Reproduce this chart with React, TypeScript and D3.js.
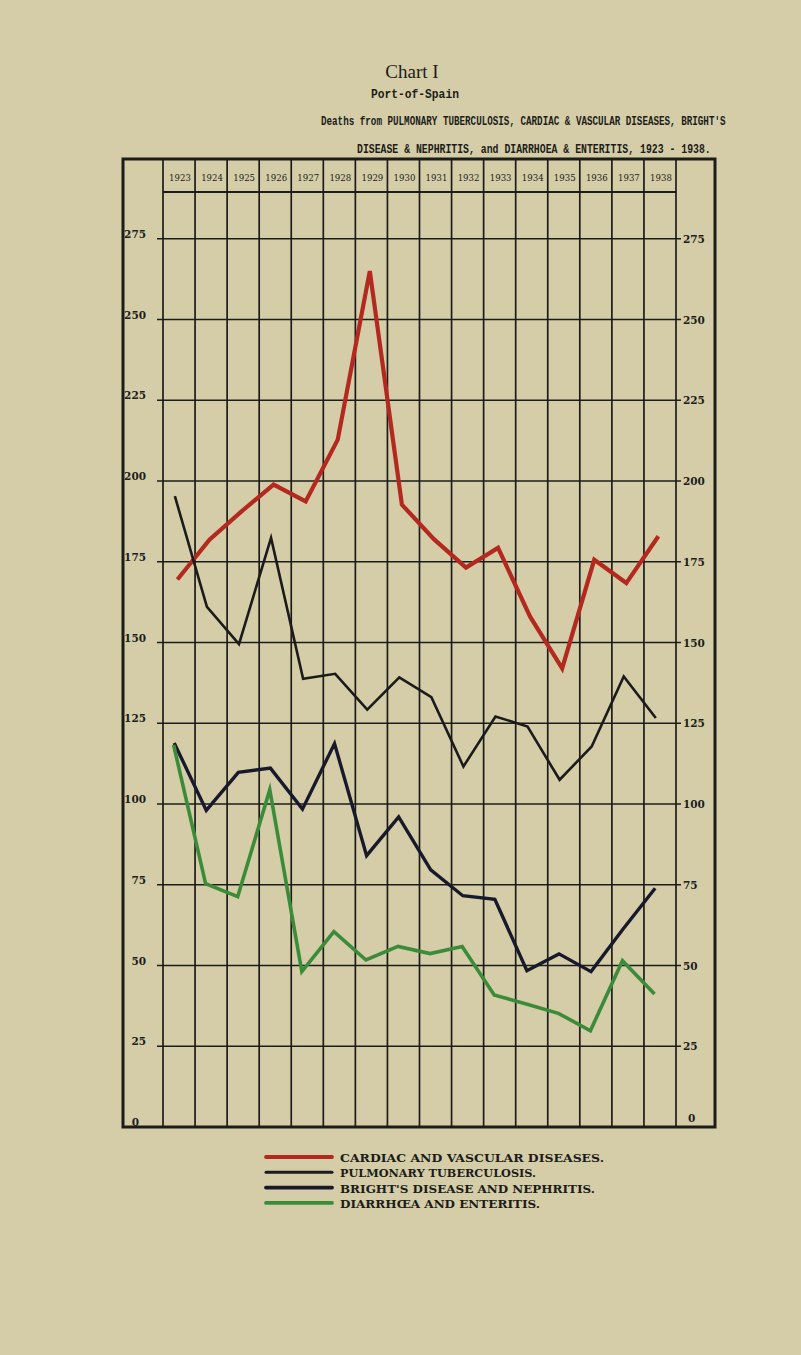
import React from 'react';
import * as d3 from 'd3';

const years = ['1923','1924','1925','1926','1927','1928','1929','1930','1931','1932','1933','1934','1935','1936','1937','1938'];
const yTicks = [0, 25, 50, 75, 100, 125, 150, 175, 200, 225, 250, 275];

const cardiac = [169.5, 181.8, 190.6, 198.9, 193.7, 212.8, 265.0, 192.7, 182.0, 173.2, 179.3, 158.0, 142.0, 175.6, 168.4, 182.9];
const tuberculosis = [195.3, 161.0, 149.5, 182.4, 138.8, 140.3, 129.2, 139.2, 133.1, 111.6, 127.1, 124.0, 107.5, 117.8, 139.5, 126.6];
const brights = [118.9, 98.0, 109.8, 111.1, 98.4, 118.7, 84.0, 96.0, 79.6, 71.6, 70.5, 48.4, 53.6, 48.1, 61.3, 73.9];
const diarrhoea = [118.3, 75.3, 71.3, 104.4, 48.1, 60.5, 51.7, 55.9, 53.7, 55.9, 40.9, 38.1, 35.2, 29.8, 51.5, 41.2];

const legendLabels = [
  'CARDIAC AND VASCULAR DISEASES.',
  'PULMONARY TUBERCULOSIS.',
  "BRIGHT'S DISEASE AND NEPHRITIS.",
  'DIARRHŒA AND ENTERITIS.',
];
const legendWidths = [264, 196, 255, 200];

const titleLines = [
  "Deaths from PULMONARY TUBERCULOSIS, CARDIAC & VASCULAR DISEASES, BRIGHT'S",
  'DISEASE & NEPHRITIS, and DIARRHOEA & ENTERITIS, 1923 - 1938.',
];

const PAPER = '#d5cda7';
const INK = '#1c1c1a';

function MonoText({ x, y, text, width, fs }: { x: number; y: number; text: string; width: number; fs: number }) {
  const natural = text.length * 0.6 * fs;
  const sx = width / natural;
  return (
    <text transform={`translate(${x},${y}) scale(${sx},1)`} x={0} y={0}
      fontFamily='"Liberation Mono", "DejaVu Sans Mono", monospace' fontWeight="bold" fontSize={fs} fill={INK}>
      {text}
    </text>
  );
}

export default function App() {
  const W = 801, H = 1355;
  const x = d3.scaleBand<string>().domain(years).range([163, 676]);
  const y = d3.scaleLinear().domain([0, 300]).range([1127, 158]);
  const bw = x.bandwidth();

  const series = [
    { data: cardiac, color: '#b3291f', width: 4.2, off: 0.45 },
    { data: tuberculosis, color: '#1b1b1b', width: 2.6, off: 0.37 },
    { data: brights, color: '#181a2c', width: 3.4, off: 0.35 },
    { data: diarrhoea, color: '#3b8c3a', width: 3.6, off: 0.33 },
  ];

  const mkLine = (off: number) =>
    d3.line<number>()
      .x((_, i) => (x(years[i]) as number) + bw * off)
      .y((d) => y(d));

  const lineXs = years.map((yr) => x(yr) as number).concat([676]);
  const top = 160, bottom = 1127;
  const gridTicks = yTicks.filter((t) => t > 0);

  const serif = '"DejaVu Serif", serif';

  return (
    <svg width={W} height={H} style={{ position: 'absolute', left: 0, top: 0, display: 'block' }}>
      <rect x={0} y={0} width={W} height={H} fill={PAPER} />

      {/* Titles */}
      <text x={412} y={78} textAnchor="middle" fontFamily='"Liberation Serif", serif' fontSize={19} fill={INK}>Chart I</text>
      <MonoText x={371} y={98} text="Port-of-Spain" width={88} fs={13} />
      <MonoText x={321} y={125} text={titleLines[0]} width={405} fs={13} />
      <MonoText x={357} y={153} text={titleLines[1]} width={354} fs={13} />

      {/* Horizontal grid lines */}
      {gridTicks.map((t) => (
        <line key={'h' + t} x1={157} x2={681} y1={y(t)} y2={y(t)} stroke={INK} strokeWidth={1.6} />
      ))}
      {/* Header bottom */}
      <line x1={163} x2={676} y1={192} y2={192} stroke={INK} strokeWidth={2} />
      {/* Vertical lines */}
      {lineXs.map((lx, i) => (
        <line key={'v' + i} x1={lx} x2={lx} y1={top} y2={bottom} stroke={INK} strokeWidth={1.7} />
      ))}

      {/* Year header labels */}
      {years.map((yr) => (
        <text key={yr} x={(x(yr) as number) + bw / 2 + 1} y={181} textAnchor="middle"
          fontFamily={serif} fontSize={8.6} fill={INK}>{yr}</text>
      ))}

      {/* Y labels */}
      {yTicks.map((t) => (
        <text key={'l' + t} x={t === 0 ? 139 : 146} y={t === 0 ? y(t) - 1 : y(t) - 1} textAnchor="end"
          fontFamily={serif} fontWeight="bold" fontSize={10.5} fill={INK}>{t}</text>
      ))}
      {yTicks.map((t) => (
        <text key={'r' + t} x={t === 0 ? 688 : 683} y={t === 0 ? y(t) - 5 : y(t) + 4}
          fontFamily={serif} fontWeight="bold" fontSize={10.5} fill={INK}>{t}</text>
      ))}

      {/* Outer frame */}
      <rect x={123} y={159} width={592} height={968} fill="none" stroke={INK} strokeWidth={3} />

      {/* Series */}
      {series.map((s, i) => (
        <path key={'s' + i} d={mkLine(s.off)(s.data) as string} fill="none" stroke={s.color}
          strokeWidth={s.width} strokeLinejoin="miter" strokeMiterlimit={6} />
      ))}

      {/* Legend */}
      {series.map((s, i) => (
        <g key={'lg' + i}>
          <line x1={266} x2={332} y1={1157 + i * 15.3} y2={1157 + i * 15.3} stroke={s.color}
            strokeWidth={i === 1 ? 3 : 3.8} strokeLinecap="round" />
          <text x={340} y={1162 + i * 15.3} fontFamily={serif} fontWeight="bold"
            fontSize={11.5} fill={INK} textLength={legendWidths[i]} lengthAdjust="spacingAndGlyphs">{legendLabels[i]}</text>
        </g>
      ))}
    </svg>
  );
}
